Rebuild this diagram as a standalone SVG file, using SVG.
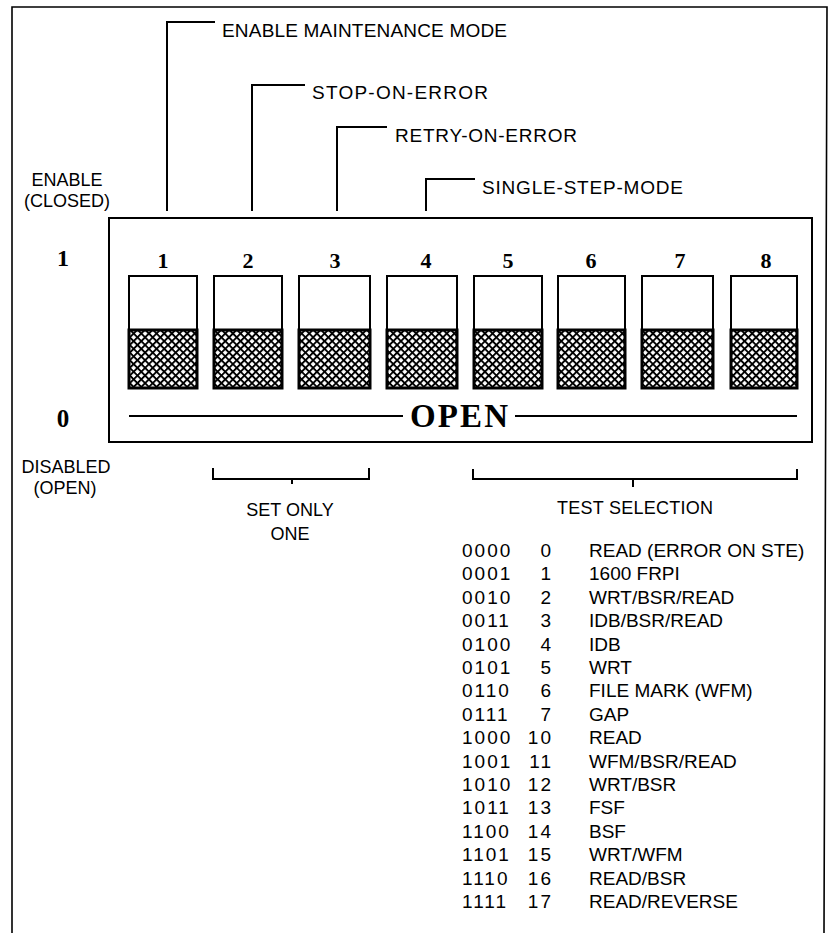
<svg xmlns="http://www.w3.org/2000/svg" width="829" height="933" viewBox="0 0 829 933">
<defs>
<pattern id="hatch" width="5.4" height="5.4" patternUnits="userSpaceOnUse" patternTransform="rotate(45)">
<rect width="5.4" height="5.4" fill="#fff"/>
<rect width="5.4" height="1.9" fill="#000"/>
<rect width="1.9" height="5.4" fill="#000"/>
</pattern>
<style>
.sans{font-family:"Liberation Sans",Arial,sans-serif;font-size:18px;fill:#000}
.lab{font-family:"Liberation Sans",Arial,sans-serif;font-size:19px;fill:#000}
.tbl{font-family:"Liberation Sans",Arial,sans-serif;font-size:19px;fill:#000}
.dig{letter-spacing:2px}
.serif{font-family:"Liberation Serif","Times New Roman",serif;font-weight:bold;fill:#000}
.ln{fill:none;stroke:#000;stroke-width:2}
.up{fill:#fff;stroke:#000;stroke-width:2}
.dn{fill:url(#hatch);stroke:#000;stroke-width:3}
</style>
</defs>
<rect width="829" height="933" fill="#fff"/>
<polyline points="12,933 12,7 827,7 824,933" fill="none" stroke="#000" stroke-width="1.6"/>

<g id="connectors">
<path class="ln" d="M167,211 V22 H215"/>
<path class="ln" d="M252,211 V85 H305"/>
<path class="ln" d="M337,211 V127 H387"/>
<path class="ln" d="M426,211 V179 H475"/>
<path class="ln" d="M213,468 V479 H369 V468 M292,479 V484"/>
<path class="ln" d="M473,469 V479 H797 V469 M633,479 V487"/>
</g>

<g id="label-maint"><text class="lab" x="222" y="37" textLength="285" lengthAdjust="spacing">ENABLE MAINTENANCE MODE</text></g>
<g id="label-stop"><text class="lab" x="312" y="99" textLength="176" lengthAdjust="spacing">STOP-ON-ERROR</text></g>
<g id="label-retry"><text class="lab" x="395" y="142" textLength="182" lengthAdjust="spacing">RETRY-ON-ERROR</text></g>
<g id="label-step"><text class="lab" x="482" y="194" textLength="201" lengthAdjust="spacing">SINGLE-STEP-MODE</text></g>

<g id="label-enable">
<text class="sans" x="67" y="186" text-anchor="middle">ENABLE</text>
<text class="sans" x="67" y="207" text-anchor="middle">(CLOSED)</text>
</g>
<g id="label-disabled">
<text class="sans" x="66" y="473" text-anchor="middle">DISABLED</text>
<text class="sans" x="65" y="494" text-anchor="middle">(OPEN)</text>
</g>
<g id="level-1"><text class="serif" x="63" y="266" font-size="24" text-anchor="middle">1</text></g>
<g id="level-0"><text class="serif" x="63" y="427" font-size="25" text-anchor="middle">0</text></g>

<g id="switch-block">
<rect x="109" y="218" width="703" height="224" fill="none" stroke="#000" stroke-width="2"/>
<path class="ln" d="M129,416 H403 M515,416 H797"/>
<text class="serif" x="459" y="427" font-size="33" text-anchor="middle" textLength="98" lengthAdjust="spacing">OPEN</text>
</g>

<g id="sw1"><text class="serif" x="163" y="268" font-size="22" text-anchor="middle">1</text><rect class="up" x="129" y="276" width="68" height="54"/><rect class="dn" x="129" y="330" width="68" height="58"/></g>
<g id="sw2"><text class="serif" x="248" y="268" font-size="22" text-anchor="middle">2</text><rect class="up" x="214" y="276" width="68" height="54"/><rect class="dn" x="214" y="330" width="68" height="58"/></g>
<g id="sw3"><text class="serif" x="335" y="268" font-size="22" text-anchor="middle">3</text><rect class="up" x="299" y="276" width="71" height="54"/><rect class="dn" x="299" y="330" width="71" height="58"/></g>
<g id="sw4"><text class="serif" x="426" y="268" font-size="22" text-anchor="middle">4</text><rect class="up" x="387" y="276" width="70" height="54"/><rect class="dn" x="387" y="330" width="70" height="58"/></g>
<g id="sw5"><text class="serif" x="508" y="268" font-size="22" text-anchor="middle">5</text><rect class="up" x="474" y="276" width="68" height="54"/><rect class="dn" x="474" y="330" width="68" height="58"/></g>
<g id="sw6"><text class="serif" x="591" y="268" font-size="22" text-anchor="middle">6</text><rect class="up" x="558" y="276" width="67" height="54"/><rect class="dn" x="558" y="330" width="67" height="58"/></g>
<g id="sw7"><text class="serif" x="680" y="268" font-size="22" text-anchor="middle">7</text><rect class="up" x="642" y="276" width="71" height="54"/><rect class="dn" x="642" y="330" width="71" height="58"/></g>
<g id="sw8"><text class="serif" x="766" y="268" font-size="22" text-anchor="middle">8</text><rect class="up" x="731" y="276" width="66" height="54"/><rect class="dn" x="731" y="330" width="66" height="58"/></g>

<g id="label-setonly">
<text class="sans" x="290" y="516" text-anchor="middle">SET ONLY</text>
<text class="sans" x="290" y="540" text-anchor="middle">ONE</text>
</g>
<g id="label-test"><text class="sans" x="635" y="514" text-anchor="middle" textLength="156" lengthAdjust="spacing">TEST SELECTION</text></g>

<g id="test-table" class="tbl">
<text x="462" y="557" class="dig">0000</text><text x="553" y="557" text-anchor="end" class="dig">0</text><text x="589" y="557">READ (ERROR ON STE)</text>
<text x="462" y="580.4" class="dig">0001</text><text x="553" y="580.4" text-anchor="end" class="dig">1</text><text x="589" y="580.4">1600 FRPI</text>
<text x="462" y="603.8" class="dig">0010</text><text x="553" y="603.8" text-anchor="end" class="dig">2</text><text x="589" y="603.8">WRT/BSR/READ</text>
<text x="462" y="627.2" class="dig">0011</text><text x="553" y="627.2" text-anchor="end" class="dig">3</text><text x="589" y="627.2">IDB/BSR/READ</text>
<text x="462" y="650.6" class="dig">0100</text><text x="553" y="650.6" text-anchor="end" class="dig">4</text><text x="589" y="650.6">IDB</text>
<text x="462" y="674" class="dig">0101</text><text x="553" y="674" text-anchor="end" class="dig">5</text><text x="589" y="674">WRT</text>
<text x="462" y="697.4" class="dig">0110</text><text x="553" y="697.4" text-anchor="end" class="dig">6</text><text x="589" y="697.4">FILE MARK (WFM)</text>
<text x="462" y="720.8" class="dig">0111</text><text x="553" y="720.8" text-anchor="end" class="dig">7</text><text x="589" y="720.8">GAP</text>
<text x="462" y="744.2" class="dig">1000</text><text x="553" y="744.2" text-anchor="end" class="dig">10</text><text x="589" y="744.2">READ</text>
<text x="462" y="767.6" class="dig">1001</text><text x="553" y="767.6" text-anchor="end" class="dig">11</text><text x="589" y="767.6">WFM/BSR/READ</text>
<text x="462" y="791" class="dig">1010</text><text x="553" y="791" text-anchor="end" class="dig">12</text><text x="589" y="791">WRT/BSR</text>
<text x="462" y="814.4" class="dig">1011</text><text x="553" y="814.4" text-anchor="end" class="dig">13</text><text x="589" y="814.4">FSF</text>
<text x="462" y="837.8" class="dig">1100</text><text x="553" y="837.8" text-anchor="end" class="dig">14</text><text x="589" y="837.8">BSF</text>
<text x="462" y="861.2" class="dig">1101</text><text x="553" y="861.2" text-anchor="end" class="dig">15</text><text x="589" y="861.2">WRT/WFM</text>
<text x="462" y="884.6" class="dig">1110</text><text x="553" y="884.6" text-anchor="end" class="dig">16</text><text x="589" y="884.6">READ/BSR</text>
<text x="462" y="908" class="dig">1111</text><text x="553" y="908" text-anchor="end" class="dig">17</text><text x="589" y="908">READ/REVERSE</text>
</g>
</svg>
